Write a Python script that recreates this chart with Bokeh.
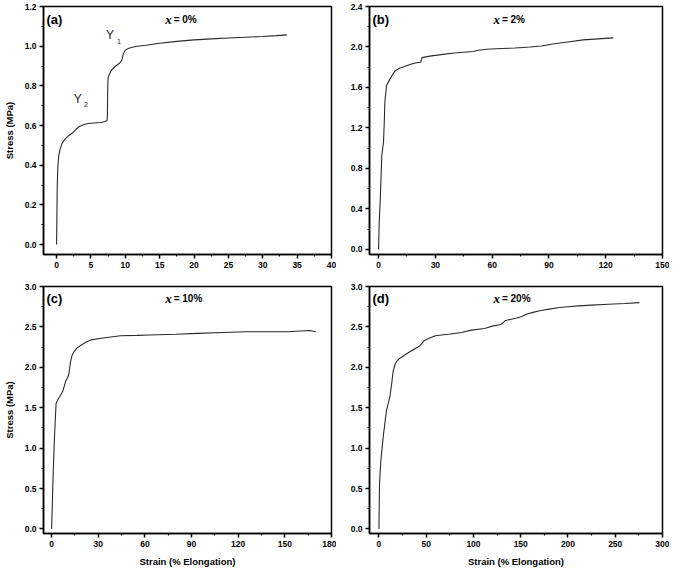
from bokeh.plotting import figure
from bokeh.layouts import column, row
from bokeh.models import FixedTicker, PrintfTickFormatter, Range1d, Label
from bokeh.embed import file_html
from bokeh.resources import INLINE

# ---------------- data ----------------
a_x = [0, 0.05, 0.1, 0.2, 0.33, 0.5, 0.8, 1.2, 1.8, 2.4, 2.8, 3.3, 4.0, 4.6, 5.5, 6.5, 7.1, 7.35, 7.4, 7.42,
       7.45, 7.5, 7.7, 8.0, 8.6, 9.2, 9.5, 9.7, 10.0, 10.5, 11.5, 13, 15, 17.5, 20, 22.5, 25, 27.5, 30, 32, 33.5]
a_y = [0, 0.15, 0.30, 0.40, 0.45, 0.48, 0.51, 0.53, 0.55, 0.565, 0.58, 0.595, 0.605, 0.61, 0.613, 0.615, 0.62,
       0.625, 0.66, 0.72, 0.80, 0.84, 0.86, 0.88, 0.90, 0.915, 0.93, 0.96, 0.98, 0.99, 0.998, 1.005, 1.015, 1.024,
       1.032, 1.037, 1.041, 1.045, 1.049, 1.053, 1.057]

b_x = [0, 0.3, 0.9, 1.7, 2.6, 3.0, 3.3, 4.2, 5.9, 8.5, 11, 14, 17, 20, 22.3, 22.6, 23, 27, 33, 40, 50, 52, 57,
       65, 72, 80, 86, 92, 100, 108, 116, 124]
b_y = [0, 0.25, 0.5, 0.93, 1.06, 1.25, 1.45, 1.62, 1.68, 1.76, 1.79, 1.81, 1.83, 1.845, 1.85, 1.88, 1.895, 1.91,
       1.925, 1.94, 1.955, 1.965, 1.978, 1.985, 1.99, 2.0, 2.01, 2.03, 2.05, 2.07, 2.08, 2.09]

c_x = [0, 0.4, 0.8, 1.4, 1.9, 2.5, 2.9, 4, 5, 7.1, 9.1, 10.5, 11.2, 12.2, 13.2, 14.3, 16.5, 19.4, 22, 25.6, 31.8,
       38, 44.2, 55, 62.8, 80, 93.8, 110, 124.8, 140, 151.7, 160, 166, 169.9]
c_y = [0, 0.25, 0.55, 0.9, 1.15, 1.4, 1.55, 1.6, 1.63, 1.70, 1.83, 1.88, 1.93, 2.07, 2.15, 2.19, 2.24, 2.28, 2.31,
       2.34, 2.36, 2.375, 2.39, 2.395, 2.40, 2.41, 2.42, 2.43, 2.44, 2.44, 2.44, 2.45, 2.455, 2.44]

d_x = [0, 0.3, 0.6, 1.9, 4.6, 8, 11.5, 13.5, 15, 16.5, 18.4, 21.8, 27, 32.2, 38, 42.5, 44.5, 47.7, 53, 59.8, 66,
       73.7, 87.5, 97.9, 111.7, 120, 129, 132, 134, 140, 146, 151, 156.5, 163, 170, 180, 191, 200, 211.6, 225,
       242.7, 260, 275.6]
d_y = [0, 0.3, 0.55, 0.83, 1.15, 1.47, 1.63, 1.8, 1.95, 2.02, 2.07, 2.11, 2.15, 2.19, 2.23, 2.26, 2.28, 2.33,
       2.36, 2.39, 2.40, 2.41, 2.43, 2.46, 2.48, 2.51, 2.53, 2.56, 2.58, 2.595, 2.61, 2.63, 2.66, 2.68, 2.70, 2.72,
       2.74, 2.75, 2.76, 2.77, 2.78, 2.79, 2.80]

a_xticks = [0, 5, 10, 15, 20, 25, 30, 35, 40]
a_yticks = [0.0, 0.2, 0.4, 0.6, 0.8, 1.0, 1.2]
b_xticks = [0, 30, 60, 90, 120, 150]
b_yticks = [0.0, 0.4, 0.8, 1.2, 1.6, 2.0, 2.4]
c_xticks = [0, 30, 60, 90, 120, 150, 180]
c_yticks = [0.0, 0.5, 1.0, 1.5, 2.0, 2.5, 3.0]
d_xticks = [0, 50, 100, 150, 200, 250, 300]
d_yticks = [0.0, 0.5, 1.0, 1.5, 2.0, 2.5, 3.0]

panel_tags = ["(a)", "(b)", "(c)", "(d)"]
panel_conc = ["= 0%", "= 2%", "= 10%", "= 20%"]
y_title = "Stress (MPa)"
x_title = "Strain (% Elongation)"

FONT = "Liberation Sans"
FRAME_H = 248


def minors(ticks):
    return [(ticks[i] + ticks[i + 1]) / 2 for i in range(len(ticks) - 1)]


def panel(xs, ys, xr, yr, xt, yt, w, h, bl, br, bt, bb, tag, conc, show_y, show_x):
    p = figure(width=w, height=h, output_backend="svg", toolbar_location=None,
               x_range=Range1d(*xr), y_range=Range1d(*yr),
               min_border_left=bl, min_border_right=br, min_border_top=bt, min_border_bottom=bb)
    p.grid.visible = False
    p.background_fill_color = "white"
    p.border_fill_color = "white"
    p.outline_line_color = "black"
    p.outline_line_width = 1.5
    p.outline_line_alpha = 1.0

    p.xaxis.ticker = FixedTicker(ticks=xt, minor_ticks=minors(xt))
    p.yaxis.ticker = FixedTicker(ticks=yt, minor_ticks=minors(yt))
    p.xaxis.formatter = PrintfTickFormatter(format="%d")
    p.yaxis.formatter = PrintfTickFormatter(format="%.1f")
    for ax in (p.xaxis, p.yaxis):
        ax.axis_line_color = "black"
        ax.axis_line_width = 1.5
        ax.major_tick_line_color = "black"
        ax.major_tick_line_width = 1.5
        ax.minor_tick_line_color = "black"
        ax.minor_tick_line_width = 1.2
        ax.major_tick_in = 0
        ax.major_tick_out = 4
        ax.minor_tick_in = 0
        ax.minor_tick_out = 2
        ax.major_label_text_font = FONT
        ax.major_label_text_font_style = "bold"
        ax.major_label_text_font_size = "8.5px"
        ax.major_label_text_color = "black"
        ax.major_label_standoff = 3
        ax.axis_label_text_font = FONT
        ax.axis_label_text_font_style = "bold"
        ax.axis_label_text_font_size = "9.5px"
        ax.axis_label_text_color = "black"
    if show_y:
        p.yaxis.axis_label = y_title
        p.yaxis.axis_label_standoff = 7
    if show_x:
        p.xaxis.axis_label = x_title
        p.xaxis.axis_label_standoff = 6

    p.line(xs, ys, line_color="#2a2a2a", line_width=1.1)

    xspan = xr[1] - xr[0]
    yspan = yr[1] - yr[0]
    ytop = yr[1] - 12.5 / FRAME_H * yspan
    p.add_layout(Label(x=xr[0], y=ytop, text=tag, x_offset=3, text_baseline="middle", text_align="left",
                       text_font=FONT, text_font_style="bold", text_font_size="13px", text_color="black"))
    xs_split = xr[0] + 0.452 * xspan
    p.add_layout(Label(x=xs_split, y=ytop, text="x", x_offset=-2, text_baseline="middle", text_align="right",
                       text_font="Liberation Serif", text_font_style="bold italic", text_font_size="13px",
                       text_color="black"))
    p.add_layout(Label(x=xs_split, y=ytop, text=conc, x_offset=0, text_baseline="middle", text_align="left",
                       text_font=FONT, text_font_style="bold", text_font_size="10px", text_color="black"))
    return p


pa = panel(a_x, a_y, (-1.9, 40), (-0.05, 1.2), a_xticks, a_yticks, 336, 280, 36, 5, 6, 26,
           panel_tags[0], panel_conc[0], True, False)
pb = panel(b_x, b_y, (-4.8, 150), (-0.05, 2.4), b_xticks, b_yticks, 333, 280, 33, 7, 6, 26,
           panel_tags[1], panel_conc[1], False, False)
pc = panel(c_x, c_y, (-5.2, 180), (-0.056, 3.0), c_xticks, c_yticks, 336, 289, 36, 5, 6, 35,
           panel_tags[2], panel_conc[2], True, True)
pd = panel(d_x, d_y, (-10, 300), (-0.056, 3.0), d_xticks, d_yticks, 333, 289, 33, 7, 6, 35,
           panel_tags[3], panel_conc[3], False, True)

# Yield point annotations in panel (a)
for txt, x, y, size in [("Y", 7.2, 1.054, "12px"), ("1", 8.8, 1.024, "7px"),
                        ("Y", 2.5, 0.734, "12px"), ("2", 4.0, 0.704, "7px")]:
    pa.add_layout(Label(x=x, y=y, text=txt, text_baseline="middle", text_align="left",
                        text_font=FONT, text_font_size=size, text_color="#222222"))

layout = column(row(pa, pb), row(pc, pd))
open("out.html", "w").write(file_html(layout, INLINE))
